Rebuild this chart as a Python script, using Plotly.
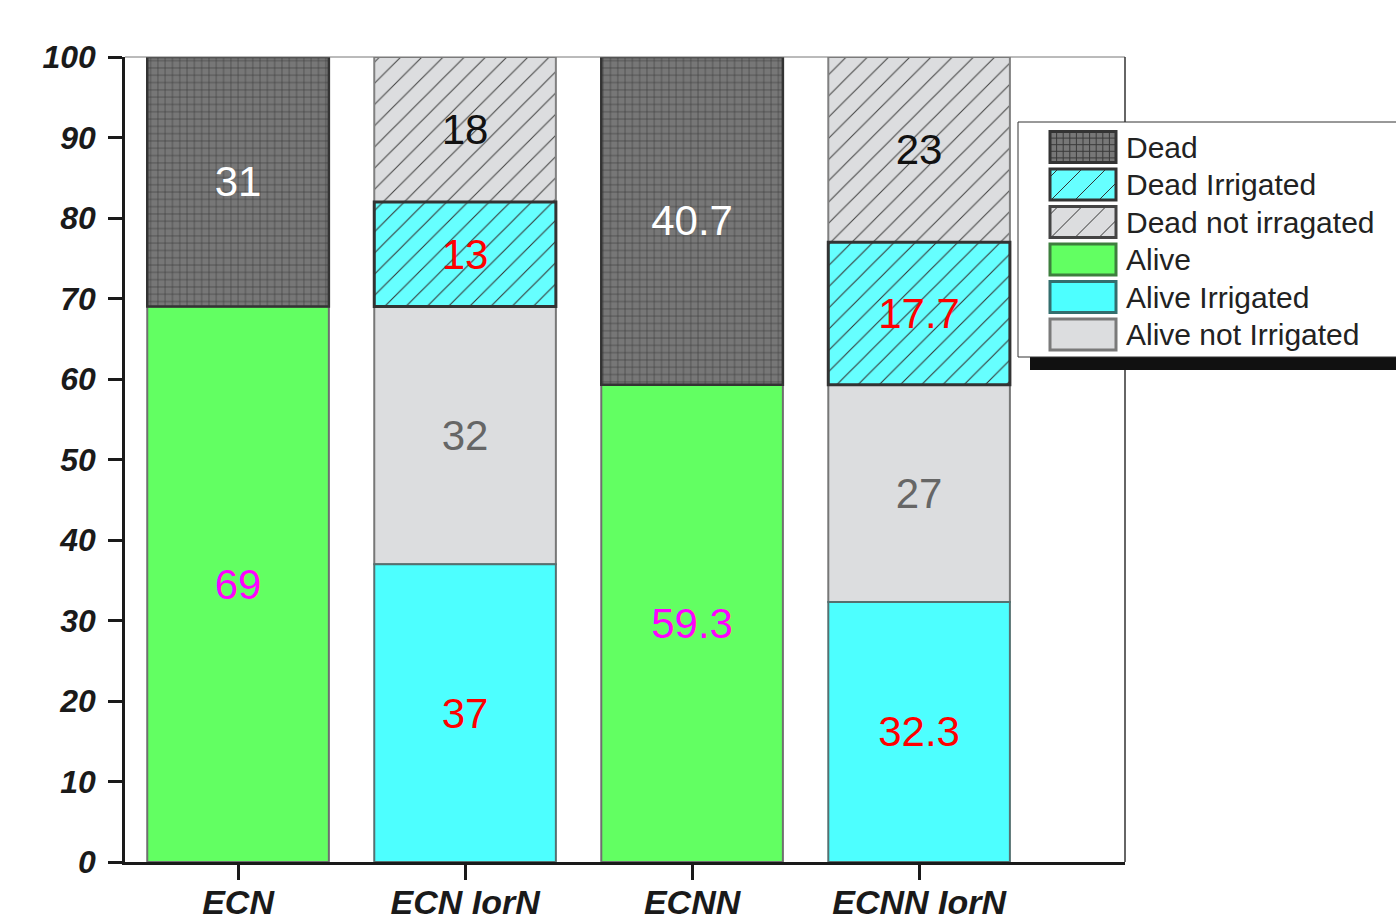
import plotly.graph_objects as go

categories = ["ECN", "ECN IorN", "ECNN", "ECNN IorN"]
alive = [69, None, 59.3, None]
alive_irrigated = [None, 37, None, 32.3]
alive_not_irrigated = [None, 32, None, 27]
dead = [31, None, 40.7, None]
dead_irrigated = [None, 13, None, 17.7]
dead_not_irrigated = [None, 18, None, 23]
y_ticks = [0, 10, 20, 30, 40, 50, 60, 70, 80, 90, 100]

series = {
    "Alive": alive,
    "Alive Irrigated": alive_irrigated,
    "Alive not Irrigated": alive_not_irrigated,
    "Dead": dead,
    "Dead Irrigated": dead_irrigated,
    "Dead not irragated": dead_not_irrigated,
}
stack_order = ["Alive", "Alive Irrigated", "Alive not Irrigated",
               "Dead", "Dead Irrigated", "Dead not irragated"]

# cumulative bases computed from the data
bases = {}
running = [0.0] * len(categories)
for name in stack_order:
    vals = series[name]
    bases[name] = [running[i] if vals[i] is not None else None for i in range(len(categories))]
    running = [running[i] + (vals[i] or 0) for i in range(len(categories))]

styles = {
    "Alive": dict(color="#62FF62", line="#6f6f6f", lw=2, text="#FF00FF", pattern=None),
    "Alive Irrigated": dict(color="#4DFFFF", line="#557070", lw=2, text="#FF0000", pattern=None),
    "Alive not Irrigated": dict(color="#DCDDDF", line="#777777", lw=2, text="#666666", pattern=None),
    "Dead": dict(color="#777777", line="#333333", lw=2.5, text="#FFFFFF",
                 pattern=dict(shape="+", fgcolor="#3a3a3a", bgcolor="#777777", size=7.3,
                              solidity=0.15, fillmode="replace")),
    "Dead Irrigated": dict(color="#66FFFF", line="#333333", lw=3, text="#FF0000",
                           pattern=dict(shape="/", fgcolor="#333333", bgcolor="#66FFFF", size=15,
                                        solidity=0.07, fillmode="replace")),
    "Dead not irragated": dict(color="#DCDDDF", line="#808080", lw=2, text="#111111",
                               pattern=dict(shape="/", fgcolor="#444444", bgcolor="#DCDDDF", size=15,
                                            solidity=0.07, fillmode="replace")),
}
draw_order = ["Alive not Irrigated", "Alive Irrigated", "Alive",
              "Dead not irragated", "Dead", "Dead Irrigated"]

FONT = "Liberation Sans, Arial, sans-serif"
fig = go.Figure()
for name in draw_order:
    st = styles[name]
    vals = series[name]
    marker = dict(color=st["color"], line=dict(color=st["line"], width=st["lw"]))
    if st["pattern"]:
        marker["pattern"] = st["pattern"]
    fig.add_trace(go.Bar(
        x=categories, y=vals, base=bases[name], name=name,
        marker=marker,
        text=[("%g" % v) if v is not None else "" for v in vals],
        textposition="inside", insidetextanchor="middle", textangle=0,
        textfont=dict(family=FONT, size=42, color=st["text"]),
        showlegend=False, hoverinfo="skip",
    ))

W, H = 1396, 917
L, R, T, B = 125, 271, 57, 55
pw, ph = W - L - R, H - T - B

def px(x):
    return (x - L) / pw

def py(y):
    return (H - B - y) / ph

shapes = []
# plot frame: thin top and right
shapes.append(dict(type="line", xref="paper", yref="paper", x0=0, x1=1, y0=1, y1=1,
                   line=dict(color="#777777", width=1)))
shapes.append(dict(type="line", xref="paper", yref="paper", x0=1, x1=1, y0=0, y1=1,
                   line=dict(color="#333333", width=1.5)))
# legend shadow and box
shapes.append(dict(type="rect", xref="paper", yref="paper", x0=px(1030), x1=px(1400),
                   y0=py(370), y1=py(356), fillcolor="#111111", line=dict(width=0)))
shapes.append(dict(type="rect", xref="paper", yref="paper", x0=px(1018), x1=px(1402),
                   y0=py(357), y1=py(122), fillcolor="#FFFFFF", line=dict(color="#333333", width=1)))

legend_items = ["Dead", "Dead Irrigated", "Dead not irragated",
                "Alive", "Alive Irrigated", "Alive not Irrigated"]
swatch_border = {
    "Dead": "#333333", "Dead Irrigated": "#333333", "Dead not irragated": "#444444",
    "Alive": "#3d7f3d", "Alive Irrigated": "#336e6e", "Alive not Irrigated": "#7a7a7a",
}
annotations = []
sx0, sx1 = 1050, 1116
for k, name in enumerate(legend_items):
    cy = 147 + k * 37.5
    y0, y1 = cy - 15.5, cy + 15.5
    st = styles[name]
    shapes.append(dict(type="rect", xref="paper", yref="paper", x0=px(sx0), x1=px(sx1),
                       y0=py(y1), y1=py(y0), fillcolor=st["color"], line=dict(width=0)))
    pat = st["pattern"]
    if pat and pat["shape"] == "+":
        step = 6.6
        x = sx0 + step
        while x < sx1 - 1:
            shapes.append(dict(type="line", xref="paper", yref="paper", x0=px(x), x1=px(x),
                               y0=py(y1), y1=py(y0), line=dict(color="#3a3a3a", width=1)))
            x += step
        y = y0 + step
        while y < y1 - 1:
            shapes.append(dict(type="line", xref="paper", yref="paper", x0=px(sx0), x1=px(sx1),
                               y0=py(y), y1=py(y), line=dict(color="#3a3a3a", width=1)))
            y += step
    elif pat and pat["shape"] == "/":
        h = y1 - y0
        step = 24
        c = sx0 - h + 8
        while c < sx1:
            # line from (c, y1) to (c+h, y0), clipped to the swatch
            ax, ay, bx, by = c, y1, c + h, y0
            if ax < sx0:
                ay = y1 - (sx0 - c)
                ax = sx0
            if bx > sx1:
                by = y0 + (bx - sx1)
                bx = sx1
            if bx > ax:
                shapes.append(dict(type="line", xref="paper", yref="paper", x0=px(ax), x1=px(bx),
                                   y0=py(ay), y1=py(by), line=dict(color="#333333", width=1)))
            c += step
    shapes.append(dict(type="rect", xref="paper", yref="paper", x0=px(sx0), x1=px(sx1),
                       y0=py(y1), y1=py(y0), fillcolor="rgba(0,0,0,0)",
                       line=dict(color=swatch_border[name], width=3)))
    annotations.append(dict(xref="paper", yref="paper", x=px(1124), y=py(cy), text=name,
                            showarrow=False, xanchor="left", yanchor="middle",
                            font=dict(family=FONT, size=30, color="#222222")))

fig.update_layout(
    width=W, height=H, margin=dict(l=L, r=R, t=T, b=B, autoexpand=False),
    template="none", barmode="overlay", bargap=0.2,
    paper_bgcolor="white", plot_bgcolor="white",
    font=dict(family=FONT, color="#222222"),
    shapes=shapes, annotations=annotations, showlegend=False,
)
fig.update_xaxes(
    range=[-0.498, 3.907], showgrid=False, zeroline=False, automargin=False,
    showline=True, linecolor="#1a1a1a", linewidth=3,
    ticks="outside", ticklen=15, tickwidth=2.5, tickcolor="#1a1a1a",
    ticklabelstandoff=-7,
    tickfont=dict(family=FONT, size=34, color="#1a1a1a", weight="bold", style="italic"),
)
fig.update_yaxes(
    range=[0, 100], tickvals=y_ticks, showgrid=False, zeroline=False, automargin=False,
    showline=True, linecolor="#1a1a1a", linewidth=2.5,
    ticks="outside", ticklen=14, tickwidth=2.5, tickcolor="#1a1a1a",
    ticklabelstandoff=6,
    tickfont=dict(family=FONT, size=32, color="#1a1a1a", weight="bold", style="italic"),
)

fig.write_html("out.html", config={"displayModeBar": False},
               post_script="document.body.style.margin='0';document.body.style.overflow='hidden';")
